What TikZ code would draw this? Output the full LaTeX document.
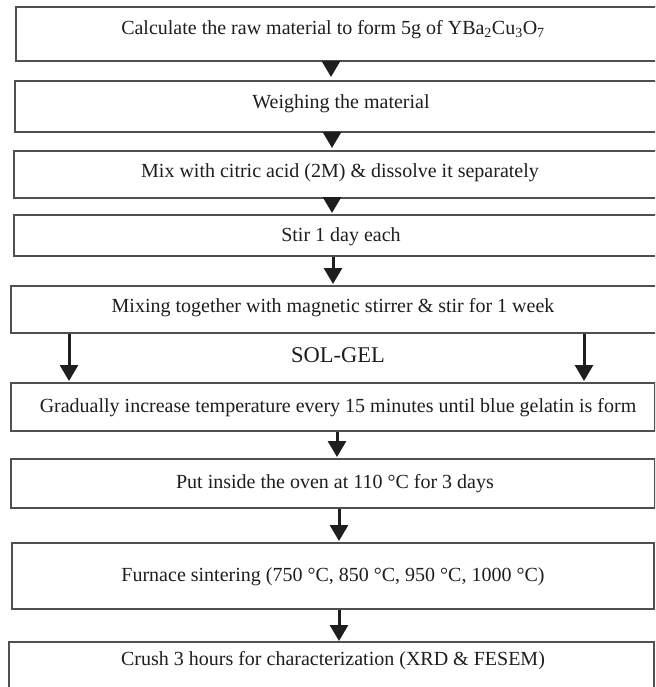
\documentclass[tikz,border=0pt]{standalone}
\usepackage{fontspec}
\setmainfont{Liberation Serif}
\usetikzlibrary{arrows.meta}
\definecolor{edge}{HTML}{505050}
\definecolor{ink}{HTML}{1E1E1E}
\tikzset{
  stepbox/.style={draw=edge, line width=1.6pt, rectangle, inner sep=0pt, anchor=north west,
    text=ink, font=\fontsize{20}{24}\selectfont},
  label/.style={text=ink, font=\fontsize{20}{24}\selectfont},
  arr/.style={draw=ink, line width=3pt, -{Triangle[width=18pt,length=16pt]}},
}
\begin{document}
\begin{tikzpicture}[x=1pt,y=-1pt]
\clip (0,0) rectangle (655,687);
\fill[white] (0,0) rectangle (655,687);
% boxes: (left,top) with width/height
\node[stepbox, minimum width=650pt, minimum height=54pt] (b1) at (15,6) {};
\node[label] (t1) at (333,30) {Calculate the raw material to form 5g of YBa\textsubscript{2}Cu\textsubscript{3}O\textsubscript{7}};
\node[stepbox, minimum width=650pt, minimum height=51pt] (b2) at (14,80) {};
\node[label] (t2) at (341,104) {Weighing the material};
\node[stepbox, minimum width=650pt, minimum height=47pt] (b3) at (13,150) {};
\node[label] (t3) at (340,173) {Mix with citric acid (2M) \& dissolve it separately};
\node[stepbox, minimum width=650pt, minimum height=41pt] (b4) at (13,214) {};
\node[label] (t4) at (341,237) {Stir 1 day each};
\node[stepbox, minimum width=654pt, minimum height=47pt] (b5) at (10,285) {};
\node[label] (t5) at (333,308) {Mixing together with magnetic stirrer \& stir for 1 week};
\node[text=ink, font=\fontsize{22.5}{26}\selectfont] (sg) at (338,355) {SOL-GEL};
\node[stepbox, minimum width=644pt, minimum height=48pt] (b6) at (10,382) {};
\node[label] (t6) at (338,408) {Gradually increase temperature every 15 minutes until blue gelatin is form};
\node[stepbox, minimum width=644pt, minimum height=49pt] (b7) at (10,458) {};
\node[label] (t7) at (335,484) {Put inside the oven at 110 °C for 3 days};
\node[stepbox, minimum width=642pt, minimum height=66pt] (b8) at (11,542) {};
\node[label] (t8) at (333,577) {Furnace sintering (750 °C, 850 °C, 950 °C, 1000 °C)};
\node[stepbox, minimum width=645pt, minimum height=60pt] (b9) at (8,641) {};
\node[label] (t9) at (333,661) {Crush 3 hours for characterization (XRD \& FESEM)};
% arrows
\draw[arr, shorten >=3pt] (b1.south -| 331,0) -- (b2.north -| 331,0);
\draw[arr, shorten >=2pt] (b2.south -| 332,0) -- (b3.north -| 332,0);
\draw[arr, shorten >=1pt] (b3.south -| 332,0) -- (b4.north -| 332,0);
\draw[arr, shorten >=1pt] (b4.south -| 333,0) -- (b5.north -| 333,0);
\draw[arr, shorten >=1pt] (b5.south -| 69,0) -- (b6.north -| 69,0);
\draw[arr, shorten >=1pt] (b5.south -| 584,0) -- (b6.north -| 584,0);
\draw[arr, shorten >=1pt] (b6.south -| 337,0) -- (b7.north -| 337,0);
\draw[arr, shorten >=1pt] (b7.south -| 339,0) -- (b8.north -| 339,0);
\draw[arr, shorten >=0pt] (b8.south -| 339,0) -- (b9.north -| 339,0);
\end{tikzpicture}
\end{document}
